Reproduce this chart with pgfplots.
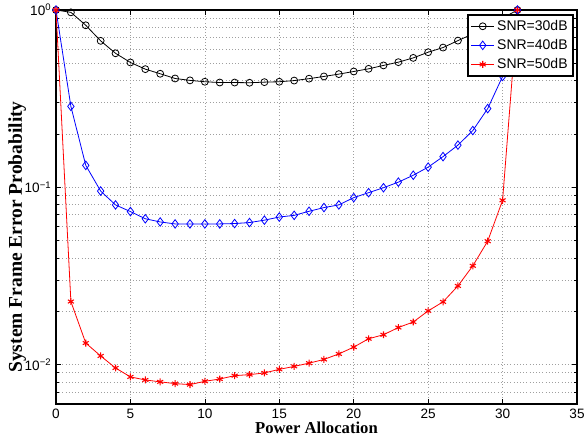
\documentclass[border=0pt]{standalone}
\usepackage{fontspec}
\setmainfont{Liberation Sans}
\newfontfamily\labelfont{Liberation Serif}
\usepackage{pgfplots}
\pgfplotsset{compat=1.18}

\begin{document}
\begin{tikzpicture}
\begin{axis}[
    scale only axis,
    width=390.75pt,
    height=295.5pt,
    ymode=log,
    xmin=0, xmax=35,
    ymin=0.006, ymax=1,
    xtick={0,5,...,35},
    ytick={0.01,0.1,1},
    yticklabels={10\textsuperscript{−2},10\textsuperscript{−1},10\textsuperscript{0}},
    minor ytick={0.006,0.007,0.008,0.009,0.02,0.03,0.04,0.05,0.06,0.07,0.08,0.09,0.2,0.3,0.4,0.5,0.6,0.7,0.8,0.9},
    grid=both,
    major grid style={dotted, gray!75, line width=0.5pt},
    minor grid style={dotted, gray!75, line width=0.5pt},
    tick align=inside,
    major tick length=3.5pt,
    minor tick length=2pt,
    tick style={black, line width=0.5pt},
    axis line style={line width=1.2pt},
    ticklabel style={font=\fontsize{10.2}{12}\selectfont},
    /pgf/number format/assume math mode=true,
    xlabel={\labelfont\bfseries\fontsize{12.5}{14}\selectfont Power Allocation},
    ylabel={\labelfont\bfseries\fontsize{14.6}{17}\selectfont System Frame Error Probability},
    xlabel style={yshift=4pt},
    ylabel style={at={(ticklabel cs:0.424)}, yshift=-8pt},
    legend style={at={(0.994,0.99)}, anchor=north east, draw=black, line width=1.4pt,
        font=\fontsize{10.5}{12.5}\selectfont, fill=white, inner sep=2pt, row sep=1.2pt},
    legend cell align=left,
]

% SNR = 30 dB
\addplot[black, line width=0.6pt, mark=o, mark size=2.6pt, mark options={line width=0.6pt}] coordinates {
    (0,1) (1,0.97) (2,0.82) (3,0.67) (4,0.57) (5,0.506) (6,0.464) (7,0.437)
    (8,0.411) (9,0.401) (10,0.394) (11,0.390) (12,0.390) (13,0.389) (14,0.392)
    (15,0.394) (16,0.400) (17,0.410) (18,0.422) (19,0.435) (20,0.450) (21,0.466)
    (22,0.487) (23,0.508) (24,0.537) (25,0.578) (26,0.614) (27,0.672) (28,0.733)
    (29,0.81) (30,0.90) (31,1.0)
};

% SNR = 40 dB
\addplot[blue, line width=0.6pt, mark=diamond, mark size=3.2pt, mark options={line width=0.6pt}] coordinates {
    (0,1) (1,0.286) (2,0.133) (3,0.0953) (4,0.0796) (5,0.0730) (6,0.0665)
    (7,0.0638) (8,0.0622) (9,0.0622) (10,0.0622) (11,0.0622) (12,0.0625)
    (13,0.0633) (14,0.0653) (15,0.0680) (16,0.0695) (17,0.0733) (18,0.0769)
    (19,0.0796) (20,0.0875) (21,0.0933) (22,0.0995) (23,0.107) (24,0.117)
    (25,0.130) (26,0.149) (27,0.173) (28,0.209) (29,0.278) (30,0.422) (31,1.0)
};

% SNR = 50 dB
\addplot[red, line width=0.6pt, mark=asterisk, mark size=2.6pt, mark options={line width=0.8pt}] coordinates {
    (0,1) (1,0.0227) (2,0.01324) (3,0.0112) (4,0.00958) (5,0.00853) (6,0.0082)
    (7,0.0080) (8,0.00782) (9,0.00772) (10,0.00806) (11,0.0083) (12,0.00867)
    (13,0.00879) (14,0.00898) (15,0.00941) (16,0.00978) (17,0.0102) (18,0.0107)
    (19,0.0115) (20,0.01256) (21,0.0140) (22,0.01475) (23,0.0162) (24,0.0174)
    (25,0.0201) (26,0.0226) (27,0.0278) (28,0.0361) (29,0.0497) (30,0.0845) (31,1.0)
};

\legend{SNR=30dB, SNR=40dB, SNR=50dB}
\end{axis}
\pgfresetboundingbox
\useasboundingbox ([shift={(-42pt,-29.25pt)}]current axis.south west) rectangle ([shift={(5.25pt,7.5pt)}]current axis.north east);
\end{tikzpicture}
\end{document}
